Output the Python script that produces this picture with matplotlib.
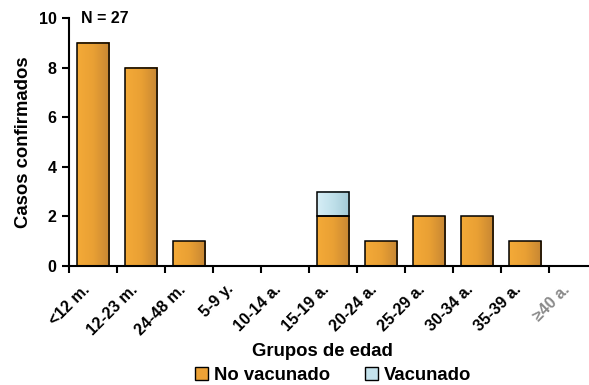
import numpy as np
import matplotlib
matplotlib.use("Agg")
import matplotlib.pyplot as plt
from matplotlib.colors import LinearSegmentedColormap
from matplotlib.patches import Patch
from matplotlib.transforms import ScaledTranslation

plt.rcParams['font.family'] = ['Liberation Sans', 'DejaVu Sans']
plt.rcParams['font.weight'] = 'bold'

categories = ["<12 m.", "12-23 m.", "24-48 m.", "5-9 y.", "10-14 a.", "15-19 a.",
              "20-24 a.", "25-29 a.", "30-34 a.", "35-39 a.", "≥40 a."]
no_vacunado = [9, 8, 1, 0, 0, 2, 1, 2, 2, 1, 0]
vacunado = [0, 0, 0, 0, 0, 1, 0, 0, 0, 0, 0]

orange_cmap = LinearSegmentedColormap.from_list("orange", ["#F4AA38", "#E9A034", "#C68633"])
blue_cmap = LinearSegmentedColormap.from_list("blue", ["#D6EEF6", "#BFE0EA", "#A2C9D6"])

fig = plt.figure(figsize=(5.89, 3.85), dpi=100)
ax = fig.add_axes([0.1171, 0.309, 0.8964, 0.644])

x = np.arange(len(categories))
width = 0.667
grad = np.linspace(0, 1, 64).reshape(1, -1)


def gradient_bars(bars, cmap):
    for b in bars:
        h = b.get_height()
        if h <= 0:
            b.set_linewidth(0)
            continue
        x0, y0 = b.get_x(), b.get_y()
        ax.imshow(grad, cmap=cmap, aspect='auto', extent=[x0, x0 + b.get_width(), y0, y0 + h],
                  zorder=2, interpolation='bilinear')
        b.set_facecolor('none')
        b.set_zorder(3)


b1 = ax.bar(x, no_vacunado, width, edgecolor='black', linewidth=1.1, facecolor='#EDA236')
b2 = ax.bar(x, vacunado, width, bottom=no_vacunado, edgecolor='black', linewidth=1.1,
            facecolor='#C4E2EC')
gradient_bars(b1, orange_cmap)
gradient_bars(b2, blue_cmap)

ax.set_xlim(-0.5, len(categories) - 0.5)
ax.set_ylim(0, 10)
ax.set_yticks([0, 2, 4, 6, 8, 10])
ax.set_xticks(np.arange(len(categories)) - 0.5, minor=False)
ax.set_xticklabels([])
ax.set_xticks(x, minor=True)
ax.set_xticklabels(categories, minor=True, rotation=45, ha='right', va='center',
                   rotation_mode='anchor', fontsize=11.5, fontweight='bold')
ax.tick_params(axis='x', which='major', direction='out', length=5, width=1.5)
ax.tick_params(axis='x', which='minor', length=0, pad=15)
ax.tick_params(axis='y', direction='out', length=5, width=1.5, labelsize=11.5, pad=4)
for lbl in ax.get_yticklabels():
    lbl.set_fontweight('bold')
shift = ScaledTranslation(-6 / 100, 0, fig.dpi_scale_trans)
for lbl in ax.get_xticklabels(minor=True):
    lbl.set_transform(lbl.get_transform() + shift)
ax.get_xticklabels(minor=True)[-1].set_color('#8A8A8A')

for s in ['top', 'right']:
    ax.spines[s].set_visible(False)
for s in ['left', 'bottom']:
    ax.spines[s].set_linewidth(1.5)

ax.set_ylabel("Casos confirmados", fontsize=13.3, fontweight='bold', labelpad=5)
fig.text(322 / 589, 1 - 352 / 385, "Grupos de edad", ha='center', va='center',
         fontsize=13.3, fontweight='bold')
ax.text(0.022, 1.0, "N = 27", transform=ax.transAxes, ha='left', va='center',
        fontsize=11.5, fontweight='bold')

handles = [Patch(facecolor='#EDA236', edgecolor='black', linewidth=1.0),
           Patch(facecolor='#C4E2EC', edgecolor='black', linewidth=1.0)]
leg = fig.legend(handles=handles, labels=["No vacunado", "Vacunado"], loc='center',
                 bbox_to_anchor=(333 / 589, 1 - 375 / 385),
                 ncol=2, frameon=False, fontsize=13.3, handlelength=0.7, handleheight=0.7,
                 handletextpad=0.3, columnspacing=1.9, borderaxespad=0)
for t in leg.get_texts():
    t.set_fontweight('bold')

fig.savefig("out.png", dpi=100)
